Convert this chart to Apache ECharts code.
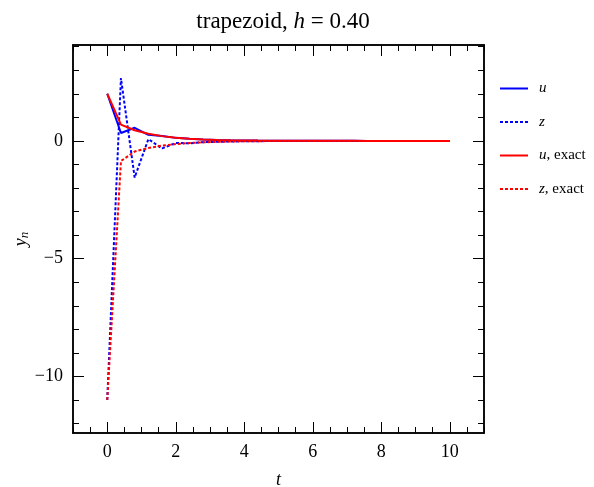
<!DOCTYPE html>
<html><head><meta charset="utf-8">
<script src="https://cdn.jsdelivr.net/npm/echarts@6/dist/echarts.min.js"></script>
<style>html,body{margin:0;padding:0;background:#fff}#c{width:594px;height:487px}</style>
</head><body><div id="c"></div>
<script>
const t = [0,0.4,0.8,1.2,1.6,2,2.4,2.8,3.2,3.6,4,4.4,4.8,5.2,5.6,6,6.4,6.8,7.2,7.6,8,8.4,8.8,9.2,9.6,10];
const uNum = [2,0.333,0.556,0.259,0.210,0.128,0.089,0.058,0.039,0.026,0.017,0.012,0.008,0.005,0.003,0.002,0.002,0.001,0.001,0,0,0,0,0,0,0];
const zNum = [-11,2.667,-1.556,0.074,-0.321,-0.091,-0.101,-0.054,-0.041,-0.025,-0.017,-0.012,-0.008,-0.005,-0.003,-0.002,-0.002,-0.001,-0.001,0,0,0,0,0,0,0];
const uExact = [2,0.689,0.450,0.301,0.202,0.135,0.091,0.061,0.041,0.027,0.018,0.012,0.008,0.006,0.004,0.002,0.002,0.001,0.001,0,0,0,0,0,0,0];
const zExact = [-11,-0.853,-0.453,-0.301,-0.202,-0.135,-0.091,-0.061,-0.041,-0.027,-0.018,-0.012,-0.008,-0.006,-0.004,-0.002,-0.002,-0.001,-0.001,0,0,0,0,0,0,0];
const xMajor = [0,2,4,6,8,10];
const xMinor = [-1,-0.5,0.5,1,1.5,2.5,3,3.5,4.5,5,5.5,6.5,7,7.5,8.5,9,9.5,10.5,11];
const yMajor = [-10,-5,0];
const yMinor = [-12,-11,-9,-8,-7,-6,-4,-3,-2,-1,1,2,3,4];
const seriesNames = ['u','z','u, exact','z, exact'];

const FONT = '"Liberation Serif", "DejaVu Serif", serif';
const X_MIN = -1, X_MAX = 11, Y_MIN = -12.4, Y_MAX = 4.07;
const line = {show:true, onZero:false, lineStyle:{color:'#000', width:1.5}};
function fmt(v){ return String(v).replace('-', '\u2212'); }
function ax(range, pos, vals, len, labels){
  return {type:'value', position:pos, min:range[0], max:range[1], axisLine:line, splitLine:{show:false},
    axisTick:{show:true, inside:true, length:len, customValues:vals, lineStyle:{color:'#000', width:1}},
    axisLabel: labels ? {show:true, customValues:vals, formatter:fmt, margin:10, color:'#000', fontFamily:FONT, fontSize:18} : {show:false}};
}
const XR = [X_MIN, X_MAX], YR = [Y_MIN, Y_MAX];
const xs = [ax(XR,'bottom', xMajor, 11, true), ax(XR,'bottom', xMinor, 6, false), ax(XR,'top', xMajor, 11, false), ax(XR,'top', xMinor, 6, false)];
xs[0].name = 't'; xs[0].nameLocation = 'middle'; xs[0].nameGap = 38;
xs[0].nameTextStyle = {fontFamily:FONT, fontStyle:'italic', fontSize:18, color:'#000'};
const ys = [ax(YR,'left', yMajor, 11, true), ax(YR,'left', yMinor, 6, false), ax(YR,'right', yMajor, 11, false), ax(YR,'right', yMinor, 6, false)];
ys[0].name = '{i|y}{s|n}'; ys[0].nameLocation = 'middle'; ys[0].nameGap = 42; ys[0].nameMoveOverlap = false;
ys[0].nameTextStyle = {color:'#000', rich:{i:{fontFamily:FONT, fontStyle:'italic', fontSize:18, color:'#000'}, s:{fontFamily:FONT, fontStyle:'italic', fontSize:13, color:'#000', padding:[7,0,0,0]}}};

function pairs(v){ return t.map((x,i)=>[x, v[i]]); }
const dash = [3,2];
const series = [
  {name:seriesNames[0], data:pairs(uNum), color:'#0000ff', lineStyle:{color:'#0000ff', width:2, type:'solid'}},
  {name:seriesNames[1], data:pairs(zNum), color:'#0000ff', lineStyle:{color:'#0000ff', width:2, type:dash}},
  {name:seriesNames[2], data:pairs(uExact), color:'#ff0000', lineStyle:{color:'#ff0000', width:2, type:'solid'}},
  {name:seriesNames[3], data:pairs(zExact), color:'#ff0000', lineStyle:{color:'#ff0000', width:2, type:dash}}
].map(s => Object.assign({type:'line', symbol:'none', showSymbol:false, xAxisIndex:0, yAxisIndex:0, animation:false}, s));

const chart = echarts.init(document.getElementById('c'), null, {renderer:'canvas'});
chart.setOption({
  animation:false,
  backgroundColor:'#fff',
  title:{text:'{n|trapezoid, }{i|h}{n| = 0.40}', left:278, textAlign:'center', top:5,
    textStyle:{fontWeight:'normal', rich:{n:{fontFamily:FONT, fontSize:23, fontWeight:'normal', color:'#000'}, i:{fontFamily:FONT, fontSize:23, fontWeight:'normal', fontStyle:'italic', color:'#000'}}}},
  grid:{left:73, right:110, top:45, bottom:54, containLabel:false, outerBoundsMode:'none'},
  xAxis: xs, yAxis: ys,
  legend:{data:seriesNames, orient:'vertical', left:494, top:76, itemWidth:28, itemHeight:14, itemGap:18.5,
    itemStyle:{opacity:0, borderWidth:0},
    formatter: n => { const p = n.split(','); return '{i|'+p[0]+'}' + (p.length>1 ? '{n|,'+p[1]+'}' : ''); },
    textStyle:{rich:{i:{fontFamily:FONT, fontStyle:'italic', fontSize:15, color:'#000'}, n:{fontFamily:FONT, fontSize:15, color:'#000'}}, padding:[0,0,0,6]}},
  series: series
});
</script></body></html>
